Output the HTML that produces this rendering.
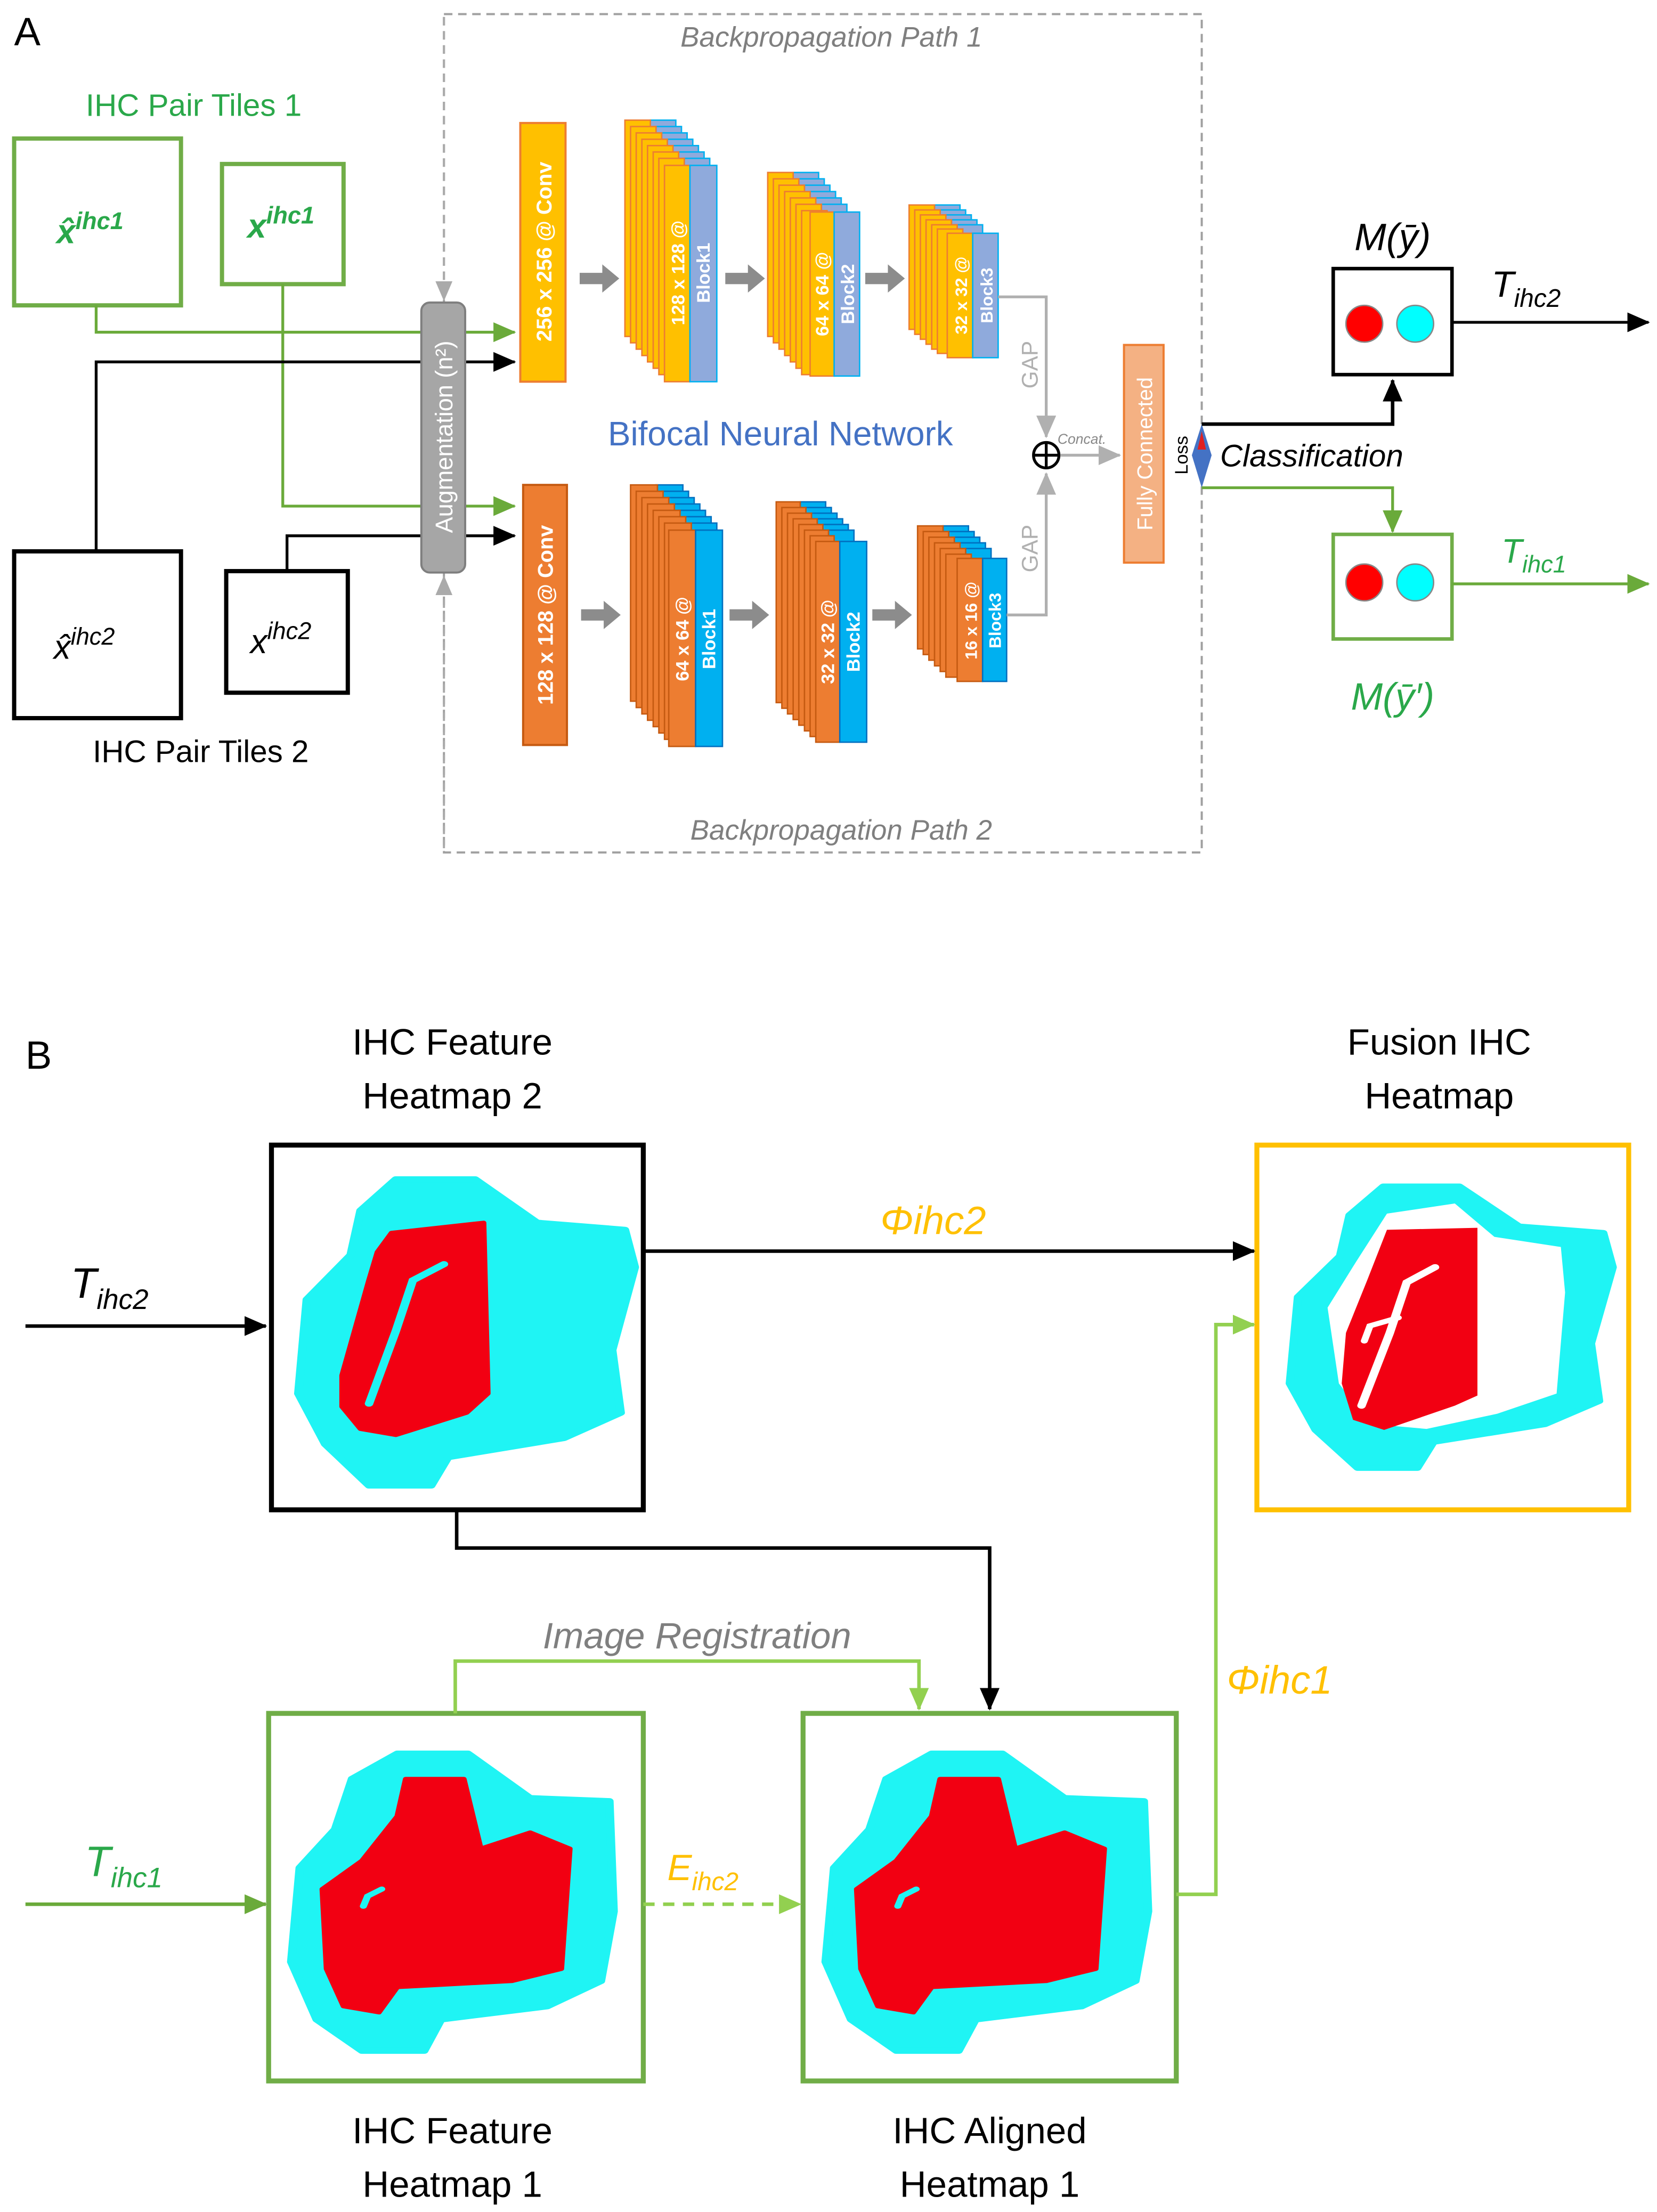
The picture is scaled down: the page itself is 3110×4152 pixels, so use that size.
<!DOCTYPE html>
<html><head><meta charset="utf-8"><style>
html,body{margin:0;padding:0;background:#fff}
svg{display:block}
text{font-family:"Liberation Sans",sans-serif}
</style></head><body>
<svg width="3110" height="4152" viewBox="0 0 1172 1564.7" xmlns="http://www.w3.org/2000/svg">
<defs>
<marker id="ab" markerWidth="16" markerHeight="14" refX="15" refY="7" orient="auto" markerUnits="userSpaceOnUse"><path d="M0,0 L16,7 L0,14 z" fill="#000"/></marker>
<marker id="ag" markerWidth="16" markerHeight="14" refX="15" refY="7" orient="auto" markerUnits="userSpaceOnUse"><path d="M0,0 L16,7 L0,14 z" fill="#6aaa3a"/></marker>
<marker id="alg" markerWidth="16" markerHeight="14" refX="15" refY="7" orient="auto" markerUnits="userSpaceOnUse"><path d="M0,0 L16,7 L0,14 z" fill="#92d050"/></marker>
<marker id="agr" markerWidth="14" markerHeight="12" refX="13" refY="6" orient="auto" markerUnits="userSpaceOnUse"><path d="M0,0 L14,6 L0,12 z" fill="#aaa"/></marker>
<marker id="agr2" markerWidth="16" markerHeight="14" refX="15" refY="7" orient="auto" markerUnits="userSpaceOnUse"><path d="M0,0 L16,7 L0,14 z" fill="#b0b0b0"/></marker>
</defs>

<!-- ============ PART A ============ -->
<text x="10" y="32" font-size="28">A</text>
<rect x="314" y="10" width="536" height="593" fill="none" stroke="#a0a0a0" stroke-width="1.5" stroke-dasharray="6,4"/>
<text x="588" y="33" font-size="20" font-style="italic" fill="#7f7f7f" text-anchor="middle">Backpropagation Path 1</text>
<text x="595" y="594" font-size="20" font-style="italic" fill="#7f7f7f" text-anchor="middle">Backpropagation Path 2</text>

<text x="137" y="82" font-size="22" fill="#2aa84a" text-anchor="middle">IHC Pair Tiles 1</text>
<rect x="10" y="98" width="118" height="118" fill="none" stroke="#70ad47" stroke-width="3"/>
<rect x="157" y="116" width="86" height="85" fill="none" stroke="#70ad47" stroke-width="3"/>
<text x="40" y="172" font-size="24" font-style="italic" font-weight="bold" fill="#2aa84a">x̂<tspan font-size="17" dy="-10">ihc1</tspan></text>
<text x="175" y="168" font-size="24" font-style="italic" font-weight="bold" fill="#2aa84a">x<tspan font-size="17" dy="-10">ihc1</tspan></text>

<rect x="10" y="390" width="118" height="118" fill="none" stroke="#000" stroke-width="3"/>
<rect x="160" y="404" width="86" height="86" fill="none" stroke="#000" stroke-width="3"/>
<text x="38" y="466" font-size="24" font-style="italic" fill="#000">x̂<tspan font-size="17" dy="-10">ihc2</tspan></text>
<text x="177" y="462" font-size="24" font-style="italic" fill="#000">x<tspan font-size="17" dy="-10">ihc2</tspan></text>
<text x="142" y="539" font-size="22" fill="#000" text-anchor="middle">IHC Pair Tiles 2</text>

<polyline points="68,216 68,235 364,235" fill="none" stroke="#6aaa3a" stroke-width="2" marker-end="url(#ag)"/>
<polyline points="200,201 200,358 364,358" fill="none" stroke="#6aaa3a" stroke-width="2" marker-end="url(#ag)"/>
<polyline points="68,390 68,256 364,256" fill="none" stroke="#000" stroke-width="2" marker-end="url(#ab)"/>
<polyline points="203,404 203,379 364,379" fill="none" stroke="#000" stroke-width="2" marker-end="url(#ab)"/>

<line x1="314" y1="12" x2="314" y2="212" stroke="#aaa" stroke-width="1.5" stroke-dasharray="6,4" marker-end="url(#agr)"/>
<line x1="314" y1="600" x2="314" y2="408" stroke="#aaa" stroke-width="1.5" stroke-dasharray="6,4" marker-end="url(#agr)"/>
<rect x="298" y="214" width="31" height="191" rx="6" fill="#a6a6a6" stroke="#7f7f7f" stroke-width="1.5"/>
<text transform="translate(320,309) rotate(-90)" font-size="17" fill="#fff" text-anchor="middle">Augmentation (n²)</text>

<rect x="368" y="87" width="32" height="183" fill="#ffc000" stroke="#ed7d31" stroke-width="1.5"/>
<text transform="translate(390,178) rotate(-90)" font-size="15" font-weight="bold" fill="#fff" text-anchor="middle">256 x 256 @ Conv</text>
<rect x="370" y="343" width="31" height="184" fill="#ed7d31" stroke="#c55a11" stroke-width="1.5"/>
<text transform="translate(391,435) rotate(-90)" font-size="15" font-weight="bold" fill="#fff" text-anchor="middle">128 x 128 @ Conv</text>

<g fill="#8c8c8c">
<polygon points="410,193 426,193 426,187 438,197 426,207 426,201 410,201"/>
<polygon points="513,193 529,193 529,187 541,197 529,207 529,201 513,201"/>
<polygon points="612,193 628,193 628,187 640,197 628,207 628,201 612,201"/>
<polygon points="411,431 427,431 427,425 439,435 427,445 427,439 411,439"/>
<polygon points="516,431 532,431 532,425 544,435 532,445 532,439 516,439"/>
<polygon points="617,431 633,431 633,425 645,435 633,445 633,439 617,439"/>
</g>

<g stroke-width="1">
<g fill="#8faadc" stroke="#00b0f0">
<rect x="460" y="85" width="18" height="153"/><rect x="464" y="89.5" width="18" height="153"/><rect x="468" y="94" width="18" height="153"/><rect x="472" y="98.5" width="18" height="153"/><rect x="476" y="103" width="18" height="153"/><rect x="480" y="107.5" width="18" height="153"/><rect x="484" y="112" width="18" height="153"/>
</g>
<g fill="#ffc000" stroke="#ed7d31">
<rect x="442" y="85" width="18" height="153"/><rect x="446" y="89.5" width="18" height="153"/><rect x="450" y="94" width="18" height="153"/><rect x="454" y="98.5" width="18" height="153"/><rect x="458" y="103" width="18" height="153"/><rect x="462" y="107.5" width="18" height="153"/><rect x="466" y="112" width="18" height="153"/>
</g>
<rect x="470" y="117" width="18" height="153" fill="#ffc000" stroke="#ed7d31"/>
<rect x="488" y="117" width="19" height="153" fill="#8faadc" stroke="#00b0f0"/>
</g>
<text transform="translate(484,193) rotate(-90)" font-size="13" font-weight="bold" fill="#fff" text-anchor="middle">128 x 128 @</text>
<text transform="translate(502,193) rotate(-90)" font-size="13" font-weight="bold" fill="#fff" text-anchor="middle">Block1</text>

<g stroke-width="1">
<g fill="#8faadc" stroke="#00b0f0">
<rect x="561" y="122" width="18" height="116"/><rect x="565" y="126.5" width="18" height="116"/><rect x="569" y="131" width="18" height="116"/><rect x="573" y="135.5" width="18" height="116"/><rect x="577" y="140" width="18" height="116"/><rect x="581" y="144.5" width="18" height="116"/>
</g>
<g fill="#ffc000" stroke="#ed7d31">
<rect x="543" y="122" width="18" height="116"/><rect x="547" y="126.5" width="18" height="116"/><rect x="551" y="131" width="18" height="116"/><rect x="555" y="135.5" width="18" height="116"/><rect x="559" y="140" width="18" height="116"/><rect x="563" y="144.5" width="18" height="116"/><rect x="567" y="149" width="18" height="116"/>
</g>
<rect x="573" y="150" width="17" height="116" fill="#ffc000" stroke="#ed7d31"/>
<rect x="590" y="150" width="18" height="116" fill="#8faadc" stroke="#00b0f0"/>
</g>
<text transform="translate(586,208) rotate(-90)" font-size="13" font-weight="bold" fill="#fff" text-anchor="middle">64 x 64 @</text>
<text transform="translate(604,208) rotate(-90)" font-size="13" font-weight="bold" fill="#fff" text-anchor="middle">Block2</text>

<g stroke-width="1">
<g fill="#8faadc" stroke="#00b0f0">
<rect x="661" y="145" width="18" height="88"/><rect x="665" y="148.5" width="18" height="88"/><rect x="669" y="152" width="18" height="88"/><rect x="673" y="155.5" width="18" height="88"/><rect x="677" y="159" width="18" height="88"/>
</g>
<g fill="#ffc000" stroke="#ed7d31">
<rect x="643" y="145" width="18" height="88"/><rect x="647" y="148.5" width="18" height="88"/><rect x="651" y="152" width="18" height="88"/><rect x="655" y="155.5" width="18" height="88"/><rect x="659" y="159" width="18" height="88"/><rect x="663" y="162" width="18" height="88"/>
</g>
<rect x="670" y="165" width="18" height="88" fill="#ffc000" stroke="#ed7d31"/>
<rect x="688" y="165" width="18" height="88" fill="#8faadc" stroke="#00b0f0"/>
</g>
<text transform="translate(684,209) rotate(-90)" font-size="12" font-weight="bold" fill="#fff" text-anchor="middle">32 x 32 @</text>
<text transform="translate(702,209) rotate(-90)" font-size="12" font-weight="bold" fill="#fff" text-anchor="middle">Block3</text>

<g stroke-width="1">
<g fill="#00b0f0" stroke="#0070c0">
<rect x="464" y="343" width="19" height="153"/><rect x="468" y="347.5" width="19" height="153"/><rect x="472" y="352" width="19" height="153"/><rect x="476" y="356.5" width="19" height="153"/><rect x="480" y="361" width="19" height="153"/><rect x="484" y="365.5" width="19" height="153"/><rect x="488" y="370" width="19" height="153"/>
</g>
<g fill="#ed7d31" stroke="#c55a11">
<rect x="446" y="343" width="19" height="153"/><rect x="450" y="347.5" width="19" height="153"/><rect x="454" y="352" width="19" height="153"/><rect x="458" y="356.5" width="19" height="153"/><rect x="462" y="361" width="19" height="153"/><rect x="466" y="365.5" width="19" height="153"/><rect x="470" y="370" width="19" height="153"/>
</g>
<rect x="473" y="375" width="19" height="153" fill="#ed7d31" stroke="#c55a11"/>
<rect x="492" y="375" width="19" height="153" fill="#00b0f0" stroke="#0070c0"/>
</g>
<text transform="translate(487,452) rotate(-90)" font-size="13" font-weight="bold" fill="#fff" text-anchor="middle">64 x 64 @</text>
<text transform="translate(506,452) rotate(-90)" font-size="13" font-weight="bold" fill="#fff" text-anchor="middle">Block1</text>

<g stroke-width="1">
<g fill="#00b0f0" stroke="#0070c0">
<rect x="566" y="355" width="18" height="142"/><rect x="570" y="359" width="18" height="142"/><rect x="574" y="363" width="18" height="142"/><rect x="578" y="367" width="18" height="142"/><rect x="582" y="371" width="18" height="142"/><rect x="586" y="375" width="18" height="142"/>
</g>
<g fill="#ed7d31" stroke="#c55a11">
<rect x="549" y="355" width="17" height="142"/><rect x="553" y="359" width="17" height="142"/><rect x="557" y="363" width="17" height="142"/><rect x="561" y="367" width="17" height="142"/><rect x="565" y="371" width="17" height="142"/><rect x="569" y="375" width="17" height="142"/><rect x="573" y="379" width="17" height="142"/>
</g>
<rect x="577" y="383" width="17" height="142" fill="#ed7d31" stroke="#c55a11"/>
<rect x="594" y="383" width="19" height="142" fill="#00b0f0" stroke="#0070c0"/>
</g>
<text transform="translate(590,454) rotate(-90)" font-size="13" font-weight="bold" fill="#fff" text-anchor="middle">32 x 32 @</text>
<text transform="translate(608,454) rotate(-90)" font-size="13" font-weight="bold" fill="#fff" text-anchor="middle">Block2</text>

<g stroke-width="1">
<g fill="#00b0f0" stroke="#0070c0">
<rect x="667" y="372" width="18" height="87"/><rect x="671" y="376" width="18" height="87"/><rect x="675" y="380" width="18" height="87"/><rect x="679" y="384" width="18" height="87"/><rect x="683" y="388" width="18" height="87"/>
</g>
<g fill="#ed7d31" stroke="#c55a11">
<rect x="649" y="372" width="18" height="87"/><rect x="653" y="376" width="18" height="87"/><rect x="657" y="380" width="18" height="87"/><rect x="661" y="384" width="18" height="87"/><rect x="665" y="388" width="18" height="87"/><rect x="669" y="392" width="18" height="87"/>
</g>
<rect x="677" y="395" width="18" height="87" fill="#ed7d31" stroke="#c55a11"/>
<rect x="695" y="395" width="17" height="87" fill="#00b0f0" stroke="#0070c0"/>
</g>
<text transform="translate(691,439) rotate(-90)" font-size="12" font-weight="bold" fill="#fff" text-anchor="middle">16 x 16 @</text>
<text transform="translate(708,439) rotate(-90)" font-size="12" font-weight="bold" fill="#fff" text-anchor="middle">Block3</text>

<text x="552" y="315" font-size="24" fill="#4472c4" text-anchor="middle">Bifocal Neural Network</text>

<polyline points="706,210 740,210 740,309" fill="none" stroke="#b0b0b0" stroke-width="2" marker-end="url(#agr2)"/>
<polyline points="712,435 740,435 740,335" fill="none" stroke="#b0b0b0" stroke-width="2" marker-end="url(#agr2)"/>
<text transform="translate(734,258) rotate(-90)" font-size="16" fill="#b0b0b0" text-anchor="middle">GAP</text>
<text transform="translate(734,388) rotate(-90)" font-size="16" fill="#b0b0b0" text-anchor="middle">GAP</text>
<circle cx="740" cy="322" r="9" fill="#fff" stroke="#000" stroke-width="2"/>
<line x1="731" y1="322" x2="749" y2="322" stroke="#000" stroke-width="2"/>
<line x1="740" y1="313" x2="740" y2="331" stroke="#000" stroke-width="2"/>
<line x1="750" y1="322" x2="792" y2="322" stroke="#b0b0b0" stroke-width="2" marker-end="url(#agr2)"/>
<text x="748" y="314" font-size="10" font-style="italic" fill="#888">Concat.</text>

<rect x="795" y="244" width="28" height="154" fill="#f4b183" stroke="#ed7d31" stroke-width="1.5"/>
<text transform="translate(815,321) rotate(-90)" font-size="15" fill="#fff" text-anchor="middle">Fully Connected</text>
<text transform="translate(840,322) rotate(-90)" font-size="13" fill="#000" text-anchor="middle">Loss</text>
<polygon points="850,300 857,322 850,345 843,322" fill="#4472c4"/>
<polygon points="850,305 853,318 847,318" fill="#e02020"/>

<polyline points="850,300 985,300 985,269" fill="none" stroke="#000" stroke-width="2.5" marker-end="url(#ab)"/>
<polyline points="850,345 985,345 985,376" fill="none" stroke="#6aaa3a" stroke-width="2" marker-end="url(#ag)"/>
<text x="863" y="330" font-size="22" font-style="italic" fill="#000">Classification</text>
<text x="985" y="177" font-size="27" font-style="italic" fill="#000" text-anchor="middle">M(ȳ)</text>
<rect x="943" y="190" width="84" height="75" fill="#fff" stroke="#000" stroke-width="2.5"/>
<circle cx="965" cy="229" r="13" fill="#f00" stroke="#888" stroke-width="1"/>
<circle cx="1001" cy="229" r="13" fill="#0ff" stroke="#888" stroke-width="1"/>
<line x1="1027" y1="228" x2="1166" y2="228" stroke="#000" stroke-width="2" marker-end="url(#ab)"/>
<text x="1055" y="210" font-size="26" font-style="italic" fill="#000">T<tspan font-size="18" dy="7">ihc2</tspan></text>

<rect x="943" y="378" width="84" height="74" fill="#fff" stroke="#70ad47" stroke-width="2.5"/>
<circle cx="965" cy="412" r="13" fill="#f00" stroke="#888" stroke-width="1"/>
<circle cx="1001" cy="412" r="13" fill="#0ff" stroke="#888" stroke-width="1"/>
<line x1="1027" y1="413" x2="1166" y2="413" stroke="#6aaa3a" stroke-width="2" marker-end="url(#ag)"/>
<text x="1062" y="398" font-size="24" font-style="italic" fill="#2aa84a">T<tspan font-size="17" dy="7">ihc1</tspan></text>
<text x="985" y="502" font-size="27" font-style="italic" fill="#2aa84a" text-anchor="middle">M(ȳ′)</text>

<!-- ============ PART B ============ -->
<text x="18" y="756" font-size="28">B</text>
<text x="320" y="746" font-size="26" text-anchor="middle">IHC Feature</text>
<text x="320" y="784" font-size="26" text-anchor="middle">Heatmap 2</text>
<text x="1018" y="746" font-size="26" text-anchor="middle">Fusion IHC</text>
<text x="1018" y="784" font-size="26" text-anchor="middle">Heatmap</text>
<text x="320" y="1516" font-size="26" text-anchor="middle">IHC Feature</text>
<text x="320" y="1554" font-size="26" text-anchor="middle">Heatmap 1</text>
<text x="700" y="1516" font-size="26" text-anchor="middle">IHC Aligned</text>
<text x="700" y="1554" font-size="26" text-anchor="middle">Heatmap 1</text>

<g transform="translate(192,807) scale(1,0.715)">
<path d="M88,38 L144,38 L188,81 L250,88 L257,125 L241,207 L247,269 L207,294 L125,313 L113,341 L69,341 L38,300 L19,250 L25,157 L56,113 L63,69 Z" fill="#1ff4f4" stroke="#1ff4f4" stroke-width="6" stroke-linejoin="round"/>
<path d="M85,91 L150,81 L153,250 L138,269 L88,291 L63,285 L50,263 L50,232 L69,138 L75,110 Z" fill="#f20012" stroke="#f20012" stroke-width="4" stroke-linejoin="round"/>
<path d="M122,122 L100,138 L88,188 L69,260" fill="none" stroke="#1ff4f4" stroke-width="6" stroke-linecap="round"/>
</g>
<rect x="192" y="810" width="263" height="258" fill="none" stroke="#000" stroke-width="3.5"/>

<g transform="translate(889,807) scale(1,0.715)">
<path d="M88,38 L144,38 L188,81 L250,88 L257,125 L241,207 L247,269 L207,294 L125,313 L113,341 L69,341 L38,300 L19,250 L25,157 L56,113 L63,69 Z" fill="#1ff4f4" stroke="#1ff4f4" stroke-width="6" stroke-linejoin="round" transform="translate(5,10) scale(0.96,0.92)"/>
<path d="M92,72 L140,62 L168,95 L215,105 L218,150 L212,250 L170,270 L120,285 L80,280 L58,240 L50,165 L70,120 Z" fill="#fff"/>
<path d="M92,88 L156,86 L156,252 L140,262 L90,286 L68,276 L60,240 L63,190 L78,138 Z" fill="#f20012"/>
<path d="M126,125 L106,140 L94,190 L74,262" fill="none" stroke="#fff" stroke-width="6" stroke-linecap="round"/>
<path d="M100,175 L80,183 L76,198" fill="none" stroke="#fff" stroke-width="5" stroke-linecap="round"/>
</g>
<rect x="889" y="810" width="263" height="258" fill="none" stroke="#ffc000" stroke-width="3.5"/>

<g transform="translate(190,1209) scale(1,0.715)">
<path d="M91,44 L141,44 L185,88 L241,91 L244,200 L235,269 L197,294 L122,307 L110,338 L66,338 L34,307 L16,250 L22,157 L47,119 L59,69 Z" fill="#1ff4f4" stroke="#1ff4f4" stroke-width="6" stroke-linejoin="round"/>
<path d="M97,69 L138,69 L150,138 L185,122 L213,138 L207,257 L172,269 L91,275 L78,300 L53,294 L41,257 L38,178 L66,150 L91,106 Z" fill="#f20012" stroke="#f20012" stroke-width="4" stroke-linejoin="round"/>
<path d="M80,178 L70,185 L67,195" fill="none" stroke="#1ff4f4" stroke-width="5" stroke-linecap="round"/>
</g>
<rect x="190" y="1212" width="265" height="260" fill="none" stroke="#70ad47" stroke-width="3.5"/>
<g transform="translate(568,1209) scale(1,0.715)">
<path d="M91,44 L141,44 L185,88 L241,91 L244,200 L235,269 L197,294 L122,307 L110,338 L66,338 L34,307 L16,250 L22,157 L47,119 L59,69 Z" fill="#1ff4f4" stroke="#1ff4f4" stroke-width="6" stroke-linejoin="round"/>
<path d="M97,69 L138,69 L150,138 L185,122 L213,138 L207,257 L172,269 L91,275 L78,300 L53,294 L41,257 L38,178 L66,150 L91,106 Z" fill="#f20012" stroke="#f20012" stroke-width="4" stroke-linejoin="round"/>
<path d="M80,178 L70,185 L67,195" fill="none" stroke="#1ff4f4" stroke-width="5" stroke-linecap="round"/>
</g>
<rect x="568" y="1212" width="264" height="260" fill="none" stroke="#70ad47" stroke-width="3.5"/>

<line x1="18" y1="938" x2="188" y2="938" stroke="#000" stroke-width="2.5" marker-end="url(#ab)"/>
<text x="50" y="918" font-size="30" font-style="italic">T<tspan font-size="20" dy="8">ihc2</tspan></text>
<line x1="455" y1="885" x2="887" y2="885" stroke="#000" stroke-width="2.5" marker-end="url(#ab)"/>
<text x="660" y="873" font-size="28" font-style="italic" fill="#ffc000" text-anchor="middle">Φihc2</text>
<polyline points="323,1068 323,1095 700,1095 700,1209" fill="none" stroke="#000" stroke-width="2.5" marker-end="url(#ab)"/>
<polyline points="322,1212 322,1175 650,1175 650,1209" fill="none" stroke="#92d050" stroke-width="2.5" marker-end="url(#alg)"/>
<text x="493" y="1166" font-size="26" font-style="italic" fill="#7f7f7f" text-anchor="middle">Image Registration</text>
<line x1="18" y1="1347" x2="188" y2="1347" stroke="#6aaa3a" stroke-width="2.5" marker-end="url(#ag)"/>
<text x="60" y="1327" font-size="30" font-style="italic" fill="#2aa84a">T<tspan font-size="20" dy="8">ihc1</tspan></text>
<line x1="455" y1="1347" x2="566" y2="1347" stroke="#92d050" stroke-width="2.5" stroke-dasharray="8,6" marker-end="url(#alg)"/>
<text x="472" y="1330" font-size="26" font-style="italic" fill="#ffc000">E<tspan font-size="18" dy="7">ihc2</tspan></text>
<polyline points="832,1340 860,1340 860,937 887,937" fill="none" stroke="#92d050" stroke-width="2.5" marker-end="url(#alg)"/>
<text x="905" y="1198" font-size="28" font-style="italic" fill="#ffc000" text-anchor="middle">Φihc1</text>
</svg>
</body></html>
